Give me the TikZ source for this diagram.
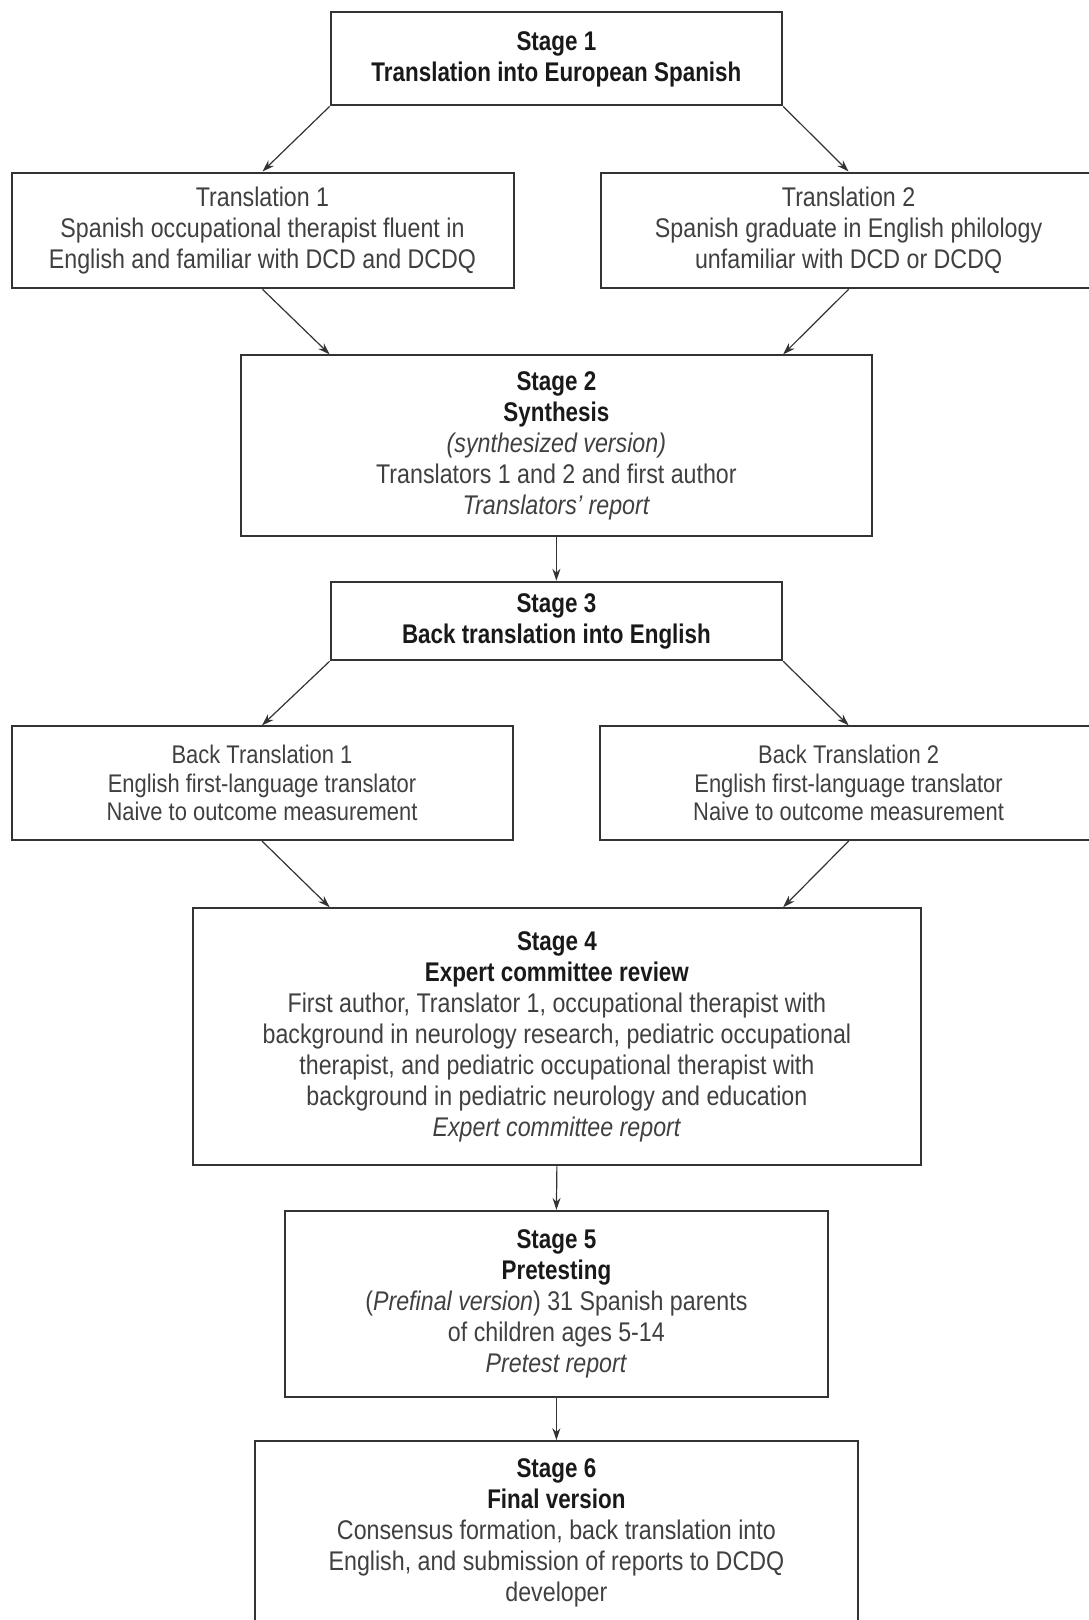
\documentclass[tikz,border=0pt]{standalone}
\usepackage{fontspec}
\setmainfont{Liberation Sans}[FakeStretch=0.86,BoldFeatures={FakeStretch=0.83}]
\usetikzlibrary{arrows.meta,calc}
\begin{document}
\begin{tikzpicture}[x=1pt,y=-1pt,
  boxbase/.style={draw=black!80,line width=2pt,inner sep=0pt,align=center,text=black!75},
  box/.style={boxbase,font=\fontsize{27}{31}\selectfont,
    execute at begin node={\rule{0pt}{26pt}}},
  boxsmall/.style={boxbase,font=\fontsize{25.5}{28.4}\selectfont},
  conn/.style={draw=black!80,line width=1.2pt,-{Stealth[length=12pt,width=8pt]}}]
\useasboundingbox (0,0) rectangle (1089,1620);
\newcommand{\hb}[1]{\textcolor{black!90}{\bfseries #1}}
\node[box,minimum width=451.5pt,minimum height=93pt] (s1) at (556.4,58.9)
  {\hb{Stage 1}\\\hb{Translation into European Spanish}};
\node[box,minimum width=502pt,minimum height=115.8pt] (t1) at (262.5,230.4)
  {Translation 1\\Spanish occupational therapist fluent in\\English and familiar with DCD and DCDQ};
\node[box,minimum width=494.7pt,minimum height=115.8pt] (t2) at (848.6,230.4)
  {Translation 2\\Spanish graduate in English philology\\unfamiliar with DCD or DCDQ};
\node[box,minimum width=631.3pt,minimum height=180.8pt] (s2) at (556.4,445.8)
  {\hb{Stage 2}\\\hb{Synthesis}\\\textit{(synthesized version)}\\Translators 1 and 2 and first author\\\textit{Translators' report}};
\node[box,minimum width=451.5pt,minimum height=78.5pt] (s3) at (556.4,621)
  {\hb{Stage 3}\\\hb{Back translation into English}};
\node[boxsmall,minimum width=501pt,minimum height=113.7pt] (b1) at (262,783.2)
  {Back Translation 1\\English first-language translator\\Naive to outcome measurement};
\node[boxsmall,minimum width=496.7pt,minimum height=113.7pt] (b2) at (848.6,783.2)
  {Back Translation 2\\English first-language translator\\Naive to outcome measurement};
\node[box,minimum width=727.4pt,minimum height=257.2pt] (s4) at (556.9,1036.8)
  {\hb{Stage 4}\\\hb{Expert committee review}\\First author, Translator 1, occupational therapist with\\background in neurology research, pediatric occupational\\therapist, and pediatric occupational therapist with\\background in pediatric neurology and education\\\textit{Expert committee report}};
\node[box,minimum width=542.4pt,minimum height=186pt] (s5) at (556.4,1303.9)
  {\hb{Stage 5}\\\hb{Pretesting}\\(\textit{Prefinal version}) 31 Spanish parents\\of children ages 5-14\\\textit{Pretest report}};
\node[box,minimum width=602.4pt,minimum height=183.7pt] (s6) at (556.4,1533)
  {\hb{Stage 6}\\\hb{Final version}\\Consensus formation, back translation into\\English, and submission of reports to DCDQ\\developer};
\draw[conn] (s1.south west) -- (t1.north);
\draw[conn] (s1.south east) -- (t2.north);
\draw[conn] (t1.south) -- (s2.north -| s1.south west);
\draw[conn] (t2.south) -- (s2.north -| s1.south east);
\draw[conn] (s2.south) -- (s3.north);
\draw[conn] (s3.south west) -- (b1.north);
\draw[conn] (s3.south east) -- (b2.north);
\draw[conn] (b1.south) -- (s4.north -| s3.south west);
\draw[conn] (b2.south) -- (s4.north -| s3.south east);
\draw[conn] (s4.south) -- (s5.north);
\draw[conn] (s5.south) -- (s6.north);
\end{tikzpicture}
\end{document}
